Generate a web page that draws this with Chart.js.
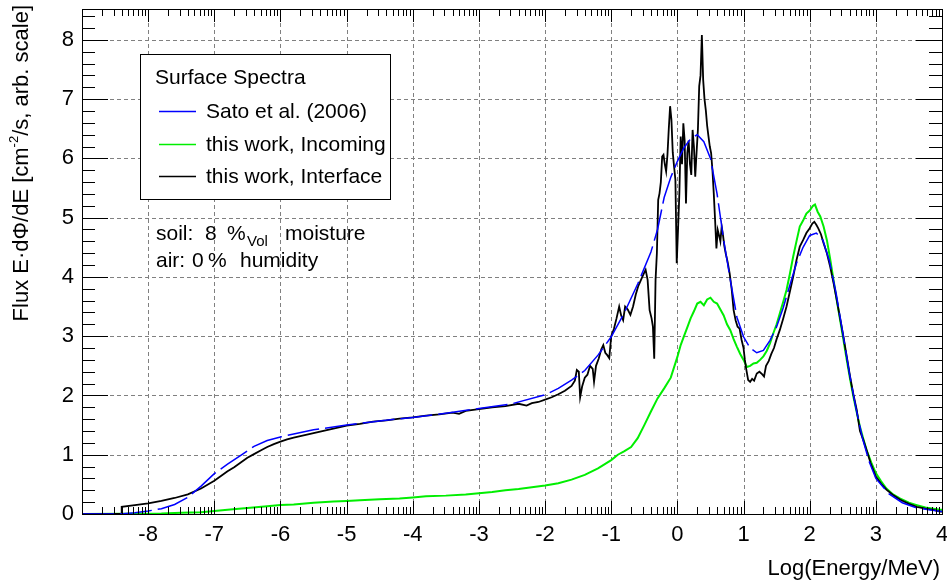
<!DOCTYPE html>
<html><head><meta charset="utf-8">
<script src="https://cdn.jsdelivr.net/npm/chart.js@4/dist/chart.umd.min.js"></script>
<style>html,body{margin:0;padding:0;background:#fff;}#wrap{width:947px;height:583px;}</style>
</head><body><div id="wrap"><canvas id="c" width="947" height="583"></canvas></div>
<script>
// ---- data ----
const satoX = [-9,-8.45,-8.2,-8.0,-7.8,-7.6,-7.4,-7.2,-7.0,-6.8,-6.6,-6.4,-6.2,-6.0,-5.8,-5.5,-5.0,-4.5,-4.0,-3.5,-3.0,-2.5,-2.0,-1.8,-1.6,-1.4,-1.2,-1.0,-0.8,-0.6,-0.4,-0.3,-0.2,-0.1,0.0,0.1,0.2,0.3,0.4,0.5,0.6,0.7,0.8,0.9,1.0,1.1,1.2,1.3,1.4,1.5,1.6,1.7,1.8,1.9,2.0,2.1,2.2,2.3,2.4,2.5,2.6,2.7,2.8,2.9,3.0,3.2,3.4,3.6,3.8,4.0];
const satoY = [0,0,0.02,0.05,0.09,0.16,0.28,0.47,0.68,0.84,0.99,1.14,1.24,1.30,1.35,1.42,1.50,1.57,1.63,1.70,1.78,1.86,2.01,2.12,2.26,2.42,2.68,2.99,3.40,3.88,4.42,4.80,5.34,5.68,5.95,6.18,6.33,6.40,6.28,6.00,5.40,4.62,3.95,3.32,2.99,2.80,2.72,2.76,2.93,3.16,3.48,3.86,4.23,4.50,4.70,4.74,4.62,4.26,3.72,3.06,2.38,1.78,1.27,0.88,0.60,0.34,0.19,0.11,0.07,0.04];

const interfaceX = [-9,-8.41,-8.4,-8.2,-8.0,-7.8,-7.6,-7.4,-7.2,-7.0,-6.9,-6.8,-6.7,-6.6,-6.5,-6.4,-6.3,-6.2,-6.1,-6.0,-5.9,-5.8,-5.6,-5.4,-5.2,-5.0,-4.8,-4.6,-4.4,-4.2,-4.0,-3.8,-3.6,-3.4,-3.3,-3.2,-3.0,-2.8,-2.6,-2.4,-2.28,-2.2,-2.1,-2.0,-1.9,-1.8,-1.7,-1.6,-1.55,-1.52,-1.49,-1.47,-1.44,-1.40,-1.36,-1.32,-1.28,-1.26,-1.23,-1.19,-1.15,-1.12,-1.09,-1.06,-1.03,-1.00,-0.96,-0.92,-0.88,-0.85,-0.82,-0.79,-0.75,-0.71,-0.67,-0.63,-0.59,-0.55,-0.51,-0.48,-0.45,-0.42,-0.39,-0.37,-0.35,-0.33,-0.31,-0.29,-0.27,-0.25,-0.23,-0.21,-0.19,-0.17,-0.15,-0.13,-0.11,-0.09,-0.07,-0.05,-0.03,-0.01,0.01,0.03,0.05,0.07,0.09,0.11,0.13,0.15,0.17,0.19,0.21,0.23,0.25,0.27,0.29,0.31,0.33,0.35,0.37,0.39,0.41,0.43,0.45,0.47,0.49,0.51,0.53,0.55,0.57,0.59,0.61,0.63,0.65,0.67,0.69,0.71,0.73,0.76,0.79,0.82,0.85,0.88,0.91,0.94,0.97,1.00,1.02,1.04,1.07,1.10,1.13,1.16,1.20,1.24,1.28,1.31,1.34,1.38,1.42,1.46,1.50,1.55,1.60,1.65,1.70,1.75,1.80,1.85,1.90,1.95,2.00,2.04,2.07,2.10,2.13,2.17,2.21,2.26,2.31,2.36,2.41,2.46,2.51,2.56,2.61,2.66,2.71,2.76,2.81,2.86,2.92,3.00,3.08,3.16,3.26,3.37,3.50,3.62,3.75,3.87,3.97,4.0];
const interfaceY = [0,0,0.12,0.15,0.18,0.22,0.27,0.33,0.43,0.56,0.64,0.72,0.79,0.87,0.95,1.01,1.07,1.13,1.18,1.22,1.26,1.29,1.34,1.39,1.44,1.49,1.52,1.56,1.58,1.61,1.63,1.66,1.68,1.71,1.69,1.74,1.77,1.80,1.82,1.86,1.83,1.87,1.89,1.93,1.97,2.02,2.08,2.16,2.25,2.43,2.40,1.97,2.15,2.30,2.35,2.50,2.45,2.23,2.50,2.62,2.78,2.85,2.72,2.68,2.63,3.00,3.12,3.30,3.50,3.35,3.27,3.50,3.45,3.36,3.50,3.70,3.85,3.95,4.05,4.12,3.95,3.44,3.30,3.16,2.62,3.95,4.40,5.30,5.41,5.60,6.03,6.06,5.90,5.78,6.06,6.50,6.88,6.65,6.10,5.86,5.64,4.23,4.80,5.41,6.37,5.90,6.59,6.30,5.24,6.09,6.30,5.90,5.72,6.48,6.20,5.69,6.10,6.48,7.22,7.40,8.08,7.32,7.00,6.81,6.55,6.37,6.20,6.09,5.80,5.41,4.96,4.48,4.79,4.70,4.60,4.85,4.70,4.52,4.40,4.25,4.06,3.80,3.44,3.27,3.16,3.13,2.94,2.80,2.60,2.45,2.26,2.23,2.28,2.25,2.37,2.40,2.36,2.32,2.50,2.58,2.70,2.80,2.95,3.11,3.30,3.50,3.75,4.00,4.28,4.51,4.62,4.74,4.82,4.90,4.93,4.88,4.82,4.72,4.57,4.40,4.17,3.90,3.61,3.30,2.99,2.66,2.32,2.02,1.76,1.40,1.25,1.08,0.86,0.63,0.51,0.41,0.32,0.24,0.17,0.12,0.09,0.07,0.04,0.04];

const incomingX = [-9,-7.8,-7.5,-7.2,-7.0,-6.8,-6.5,-6.2,-6.0,-5.8,-5.5,-5.2,-5.0,-4.8,-4.5,-4.2,-4.0,-3.8,-3.5,-3.2,-3.0,-2.8,-2.6,-2.4,-2.2,-2.0,-1.8,-1.6,-1.4,-1.2,-1.0,-0.9,-0.8,-0.7,-0.6,-0.5,-0.4,-0.3,-0.2,-0.1,0.0,0.05,0.1,0.15,0.2,0.25,0.3,0.35,0.4,0.45,0.5,0.55,0.6,0.65,0.7,0.75,0.8,0.85,0.9,0.95,1.0,1.05,1.1,1.15,1.2,1.25,1.3,1.35,1.4,1.45,1.5,1.55,1.6,1.65,1.7,1.75,1.8,1.85,1.9,1.95,2.0,2.05,2.08,2.12,2.16,2.21,2.26,2.31,2.36,2.41,2.46,2.51,2.56,2.61,2.66,2.71,2.76,2.81,2.86,2.93,3.00,3.08,3.16,3.26,3.37,3.50,3.62,3.75,3.87,3.97,4.0];
const incomingY = [0,0.01,0.02,0.03,0.05,0.07,0.10,0.13,0.15,0.16,0.19,0.21,0.22,0.23,0.25,0.26,0.28,0.30,0.31,0.33,0.35,0.37,0.40,0.42,0.45,0.48,0.52,0.58,0.66,0.77,0.91,1.00,1.06,1.13,1.28,1.50,1.73,1.95,2.12,2.30,2.65,2.85,3.00,3.15,3.30,3.42,3.55,3.58,3.52,3.62,3.65,3.58,3.55,3.45,3.35,3.20,3.10,2.95,2.82,2.70,2.60,2.48,2.50,2.54,2.55,2.60,2.66,2.75,2.88,3.05,3.20,3.39,3.58,3.78,4.05,4.34,4.60,4.85,4.95,5.07,5.12,5.20,5.22,5.10,5.02,4.85,4.62,4.30,3.95,3.60,3.27,2.94,2.60,2.28,1.98,1.72,1.47,1.27,1.08,0.87,0.69,0.55,0.43,0.33,0.26,0.19,0.15,0.11,0.09,0.07,0.07];

const seriesNames = ['Sato et al. (2006)', 'this work, Incoming', 'this work, Interface'];
const seriesColors = ['#0000ff', '#00ee00', '#000000'];
const legendTitle = 'Surface Spectra';
const xTitle = 'Log(Energy/MeV)';
const yTitleParts = ['Flux E\u00b7d\u03a6/dE [cm', '-2', '/s, arb. scale]'];
const xRange = [-9, 4];
const yRange = [0, 8.52];

const FONT = '"Liberation Sans", Arial, Helvetica, sans-serif';
const toXY = (xs, ys) => xs.map((x, i) => ({x: x, y: ys[i]}));

const decor = {
  id: 'decor',
  beforeDatasetsDraw(chart) {
    const {ctx, chartArea: a, scales: {x, y}} = chart;
    ctx.save();
    ctx.strokeStyle = '#808080';
    ctx.lineWidth = 1;
    ctx.setLineDash([4, 3]);
    for (let v = Math.ceil(xRange[0]) + 1; v < xRange[1]; v++) {
      const px = Math.round(x.getPixelForValue(v)) + 0.5;
      ctx.beginPath(); ctx.moveTo(px, a.top); ctx.lineTo(px, a.bottom); ctx.stroke();
    }
    for (let v = 1; v <= 8; v++) {
      const py = Math.round(y.getPixelForValue(v)) + 0.5;
      ctx.beginPath(); ctx.moveTo(a.left, py); ctx.lineTo(a.right, py); ctx.stroke();
    }
    ctx.restore();
  },
  afterDatasetsDraw(chart) {
    const {ctx, chartArea: a, scales: {x, y}} = chart;
    ctx.save();
    ctx.strokeStyle = '#000';
    ctx.lineWidth = 1;
    ctx.setLineDash([]);
    ctx.strokeRect(Math.round(a.left) + 0.5, Math.round(a.top) + 0.5, Math.round(a.right - a.left), Math.round(a.bottom - a.top));
    ctx.beginPath();
    for (let d = xRange[0]; d <= xRange[1]; d++) {
      const px = Math.round(x.getPixelForValue(d)) + 0.5;
      ctx.moveTo(px, a.bottom); ctx.lineTo(px, a.bottom - 13);
      ctx.moveTo(px, a.top); ctx.lineTo(px, a.top + 13);
      if (d < xRange[1]) {
        for (let k = 2; k <= 9; k++) {
          const qx = Math.round(x.getPixelForValue(d + Math.log10(k))) + 0.5;
          ctx.moveTo(qx, a.bottom); ctx.lineTo(qx, a.bottom - 7);
          ctx.moveTo(qx, a.top); ctx.lineTo(qx, a.top + 7);
        }
      }
    }
    for (let i = 0; i <= 42; i++) {
      const v = i * 0.2;
      if (v > yRange[1]) break;
      const py = Math.round(y.getPixelForValue(v)) + 0.5;
      const L = (i % 5 === 0) ? 26 : 13;
      ctx.moveTo(a.left, py); ctx.lineTo(a.left + L, py);
      ctx.moveTo(a.right, py); ctx.lineTo(a.right - L, py);
    }
    ctx.stroke();
    ctx.restore();
  },
  afterDraw(chart) {
    const {ctx} = chart;
    ctx.save();
    ctx.fillStyle = '#000';
    ctx.textBaseline = 'alphabetic';
    // y title (rotated)
    const big = '22px ' + FONT, small = '13px ' + FONT;
    ctx.font = big;
    const w0 = ctx.measureText(yTitleParts[0]).width;
    ctx.font = small;
    const w1 = ctx.measureText(yTitleParts[1]).width;
    ctx.font = big;
    const w2 = ctx.measureText(yTitleParts[2]).width;
    const total = w0 + w1 + w2;
    ctx.translate(28, 5 + total);
    ctx.rotate(-Math.PI / 2);
    ctx.textAlign = 'left';
    ctx.fillText(yTitleParts[0], 0, 0);
    ctx.font = small;
    ctx.fillText(yTitleParts[1], w0, -10);
    ctx.font = big;
    ctx.fillText(yTitleParts[2], w0 + w1, 0);
    ctx.setTransform(1, 0, 0, 1, 0, 0);
    // x title
    ctx.font = '22px ' + FONT;
    ctx.textAlign = 'right';
    ctx.fillText(xTitle, 940, 575);
    // legend box
    ctx.fillStyle = '#fff';
    ctx.fillRect(141, 55, 249, 144);
    ctx.strokeStyle = '#000';
    ctx.lineWidth = 1;
    ctx.strokeRect(140.5, 54.5, 250, 145);
    ctx.fillStyle = '#000';
    ctx.textAlign = 'left';
    ctx.font = '21px ' + FONT;
    ctx.fillText(legendTitle, 155, 84);
    const rows = [111.5, 144.5, 176.5];
    for (let i = 0; i < 3; i++) {
      ctx.strokeStyle = seriesColors[i];
      ctx.lineWidth = 1.5;
      ctx.beginPath(); ctx.moveTo(159, rows[i]); ctx.lineTo(196, rows[i]); ctx.stroke();
      ctx.fillStyle = '#000';
      ctx.textBaseline = 'middle';
      ctx.fillText(seriesNames[i], 206, rows[i] + 1);
    }
    // annotation text
    ctx.textBaseline = 'alphabetic';
    ctx.font = '21px ' + FONT;
    ctx.fillText('soil:', 156, 240);
    ctx.fillText('8', 205, 240);
    ctx.fillText('%', 227, 240);
    ctx.font = '15px ' + FONT;
    ctx.fillText('Vol', 247, 246);
    ctx.font = '21px ' + FONT;
    ctx.fillText('moisture', 285, 240);
    ctx.fillText('air:', 156, 267);
    ctx.fillText('0', 192, 267);
    ctx.fillText('%', 208, 267);
    ctx.fillText('humidity', 240, 267);
    ctx.restore();
  }
};

new Chart(document.getElementById('c'), {
  type: 'scatter',
  data: {
    datasets: [
      {label: seriesNames[0], data: toXY(satoX, satoY), showLine: true, borderColor: seriesColors[0], borderWidth: 1.5, borderDash: [32, 6], pointRadius: 0, tension: 0, order: 0},
      {label: seriesNames[2], data: toXY(interfaceX, interfaceY), showLine: true, borderColor: seriesColors[2], borderWidth: 1.8, pointRadius: 0, tension: 0, order: 1},
      {label: seriesNames[1], data: toXY(incomingX, incomingY), showLine: true, borderColor: seriesColors[1], borderWidth: 2, pointRadius: 0, tension: 0, order: 2}
    ]
  },
  options: {
    responsive: false,
    animation: false,
    devicePixelRatio: 1,
    layout: {padding: {top: 9, right: 5, left: 0, bottom: 0}},
    plugins: {legend: {display: false}, tooltip: {enabled: false}},
    scales: {
      x: {
        type: 'linear', min: xRange[0], max: xRange[1],
        grid: {display: false, drawTicks: false}, border: {display: false},
        ticks: {stepSize: 1, autoSkip: false, maxRotation: 0, includeBounds: false, padding: 8, color: '#000',
          font: {family: FONT, size: 22},
          callback: (v) => (v === xRange[0] ? '' : String(v))},
        afterFit: (s) => { s.height = 69; s.paddingLeft = 0; s.paddingRight = 0; }
      },
      y: {
        type: 'linear', min: yRange[0], max: yRange[1],
        grid: {display: false, drawTicks: false}, border: {display: false},
        ticks: {stepSize: 1, includeBounds: false, padding: 8, color: '#000', font: {family: FONT, size: 22},
          callback: (v) => String(v)},
        afterFit: (s) => { s.width = 82; s.paddingTop = 0; s.paddingBottom = 0; }
      }
    }
  },
  plugins: [decor]
});
</script>
</body></html>
